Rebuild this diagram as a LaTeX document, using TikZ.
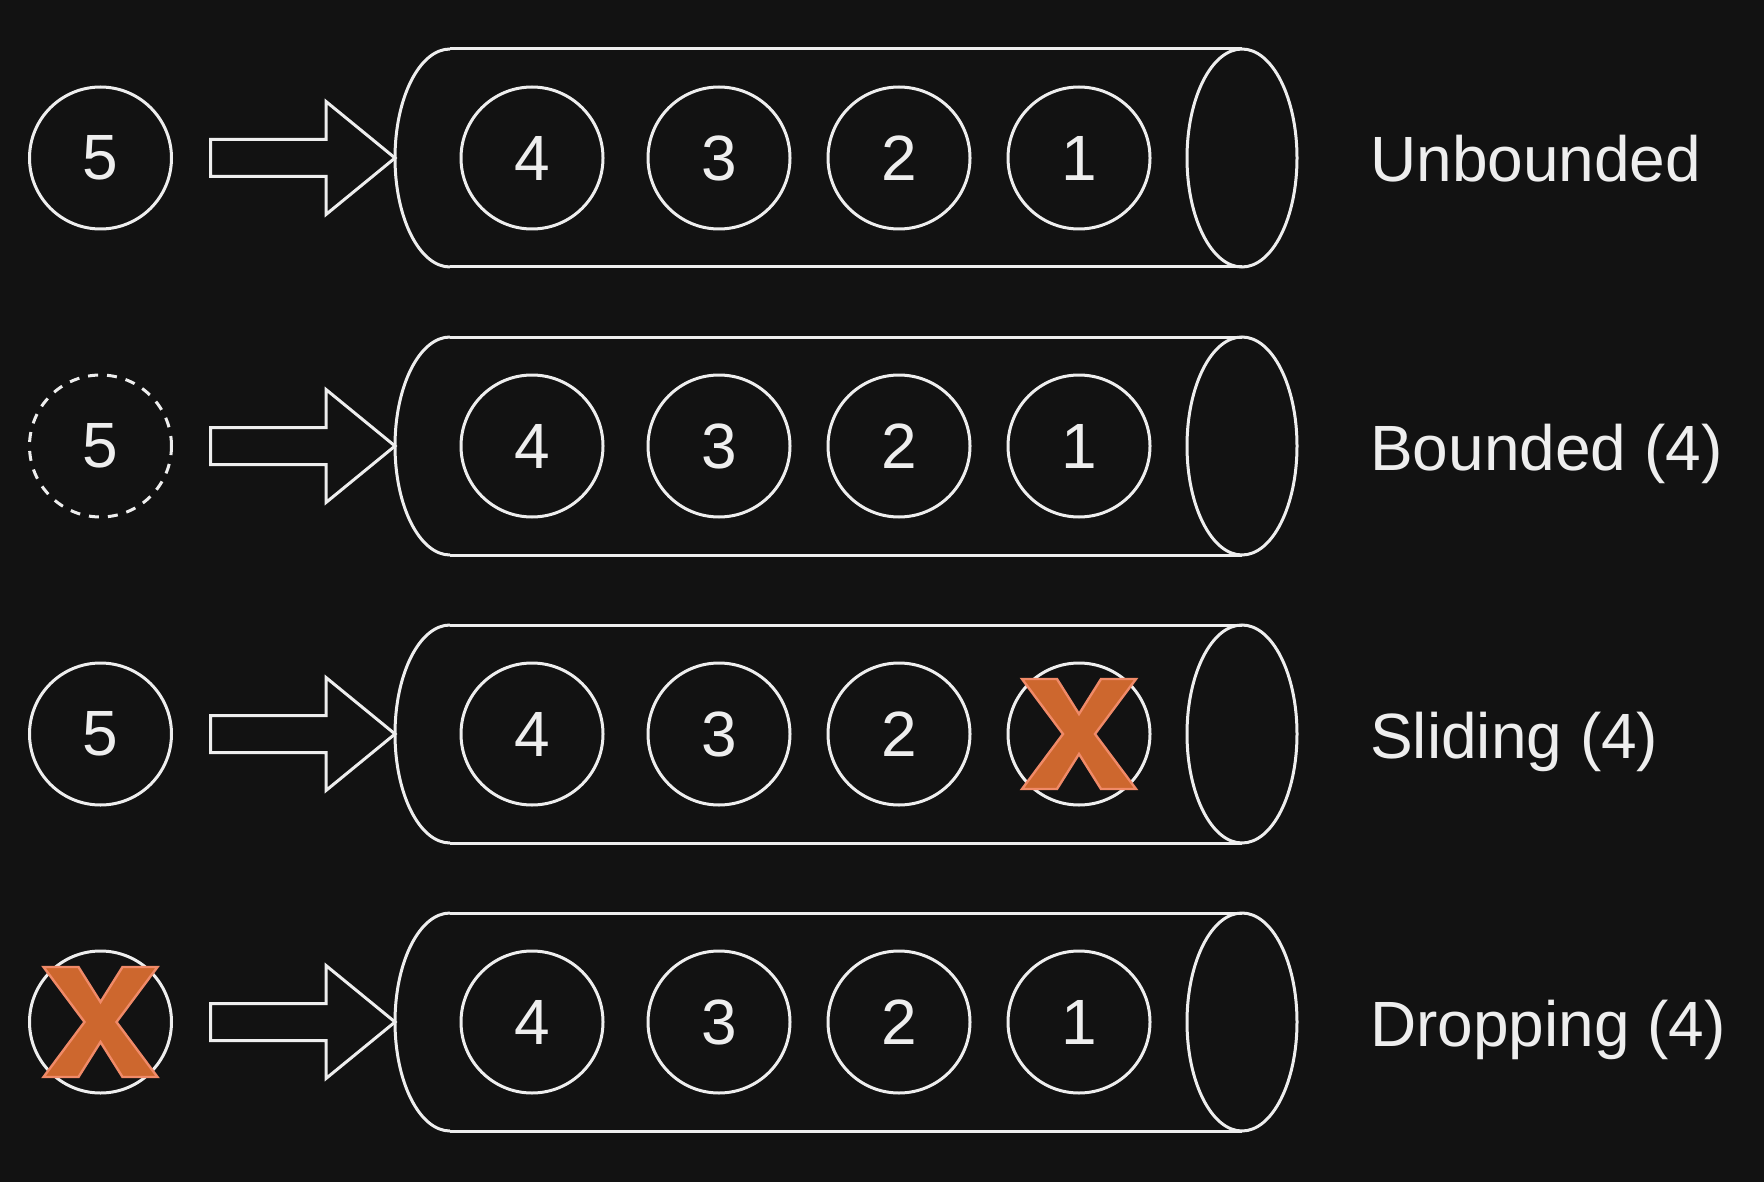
\documentclass[tikz,border=0pt]{standalone}
\usepackage{fontspec}
\setmainfont{Liberation Sans}
\usetikzlibrary{calc}
\definecolor{bg}{HTML}{121212}
\definecolor{fg}{HTML}{EEEEEE}
\definecolor{xfill}{HTML}{CD672E}
\definecolor{xline}{HTML}{F08A68}
\tikzset{
  ball/.style={circle, draw=fg, line width=3pt, minimum size=142pt, inner sep=0pt,
    text=fg, font=\fontsize{64}{70}\selectfont},
  ghost/.style={ball, dash pattern=on 10pt off 9pt},
  tube/.style={draw=fg, line width=3pt},
  blockarrow/.style={draw=fg, line width=3pt, line join=miter},
  caption/.style={anchor=base west, text=fg, inner sep=0pt, font=\fontsize{64}{70}\selectfont},
  xmark/.pic={\filldraw[fill=xfill, draw=xline, line width=2.4pt, line join=miter]
    (-57,55) -- (-22,55) -- (0,20) -- (22,55) -- (57,55) -- (16,0) -- (57,-55) -- (22,-55)
    -- (0,-20) -- (-22,-55) -- (-57,-55) -- (-16,0) -- cycle;}
}
\begin{document}
\begin{tikzpicture}[x=1pt,y=1pt]
\fill[bg] (0,0) rectangle (1764,-1182);
\useasboundingbox (0,0) rectangle (1764,-1182);
\foreach \r/\yy/\lab/\kind in {1/-158/Unbounded/ball, 2/-446/Bounded (4)/ghost, 3/-734/Sliding (4)/ball, 4/-1022/Dropping (4)/ball}{
  % tube
  \coordinate (tl\r) at (450,\yy+109);
  \coordinate (tr\r) at (1242,\yy+109);
  \coordinate (bl\r) at (450,\yy-109);
  \coordinate (br\r) at (1242,\yy-109);
  \coordinate (mouth\r) at (395,\yy);
  \draw[tube] (tl\r) -- (tr\r) (bl\r) -- (br\r);
  \draw[tube] (tl\r) arc[start angle=90, end angle=270, x radius=55pt, y radius=109pt];
  \draw[tube] (1242,\yy) ellipse [x radius=55pt, y radius=109pt];
  % items
  \node[ball] (a\r) at (532,\yy) {4};
  \node[ball] (b\r) at (719,\yy) {3};
  \node[ball] (c\r) at (899,\yy) {2};
  \node[ball] (d\r) at (1079,\yy) {1};
  % source
  \node[\kind] (s\r) at (100.5,\yy) {\ifnum\r=4\else 5\fi};
  % block arrow
  \draw[blockarrow] ($(s\r.center)+(110,18.5)$) -- ($(mouth\r)+(-69,18.5)$) -- ($(mouth\r)+(-69,56.5)$)
     -- (mouth\r) -- ($(mouth\r)+(-69,-56.5)$) -- ($(mouth\r)+(-69,-18.5)$) -- ($(s\r.center)+(110,-18.5)$) -- cycle;
  % label
  \node[caption] (lab\r) at (1370,\yy-24) {\lab};
}
\pic at (d3.center) {xmark};
\pic at (s4.center) {xmark};
\end{tikzpicture}
\end{document}
